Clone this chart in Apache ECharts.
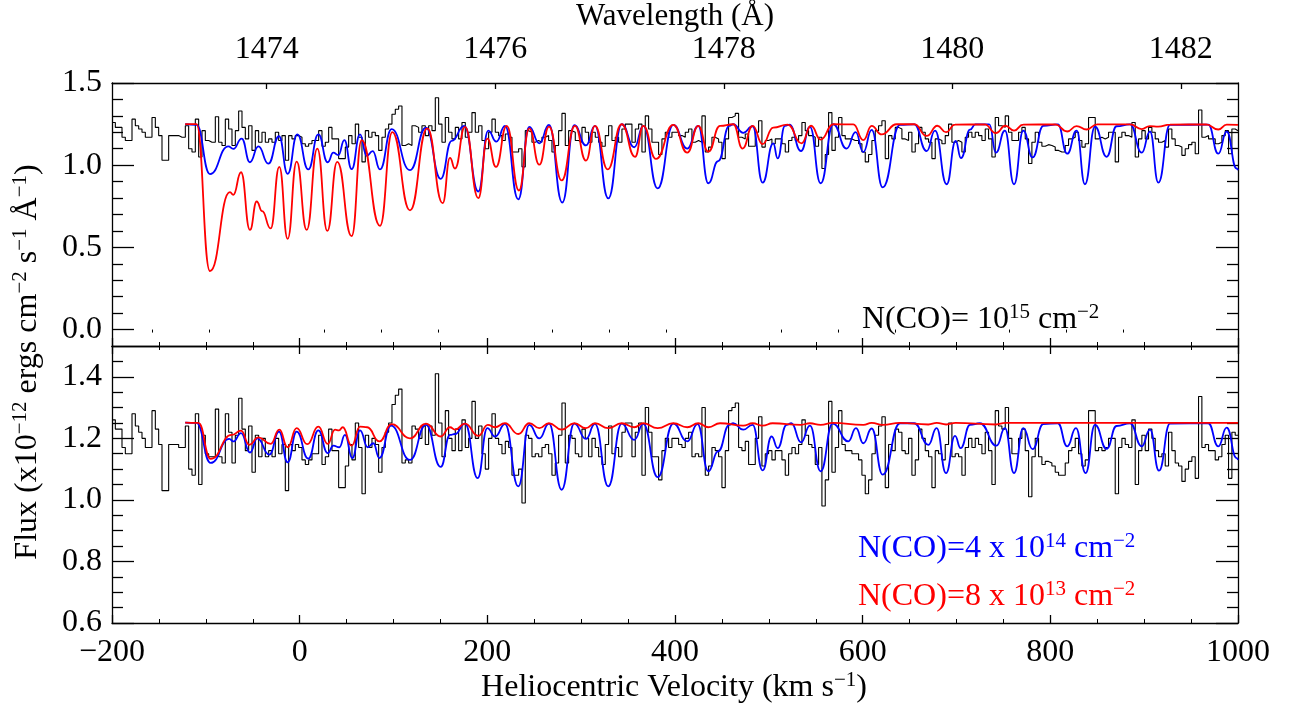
<!DOCTYPE html>
<html>
<head>
<meta charset="utf-8">
<script src="https://cdn.jsdelivr.net/npm/echarts@6/dist/echarts.min.js"></script>
<style>html,body{margin:0;padding:0;background:#fff}#c{width:1292px;height:709px}</style>
</head>
<body>
<div id="c"></div>
<script>
// ---------- DATA ----------
const velocityTicks = [-200, 0, 200, 400, 600, 800, 1000];
const wavelengthTicks = [1474, 1476, 1478, 1480, 1482];
const wavelengthMinorTicks = [1473, 1473.5, 1474.5, 1475, 1475.5, 1476.5, 1477, 1477.5, 1478.5, 1479, 1479.5, 1480.5, 1481, 1481.5, 1482.5];
const topFluxTicks = [0.0, 0.5, 1.0, 1.5];
const topFluxMinorTicks = [0.1, 0.2, 0.3, 0.4, 0.6, 0.7, 0.8, 0.9, 1.1, 1.2, 1.3, 1.4];
const bottomFluxTicks = [0.6, 0.8, 1.0, 1.2, 1.4];
const bottomFluxMinorTicks = [0.65, 0.7, 0.75, 0.85, 0.9, 0.95, 1.05, 1.1, 1.15, 1.25, 1.3, 1.35, 1.45];

// observed spectrum (histogram), one value per bin starting at -200 km/s
const fluxStartVel = -200;
const fluxBinWidth = 3.552;
const observedFlux = [
 1.26,1.23,1.23,1.17,1.15,1.15,1.28,1.24,1.22,1.20,
 1.17,1.17,1.29,1.23,1.18,1.03,1.03,1.18,1.18,1.18,
 1.17,1.17,1.24,1.10,1.08,1.28,1.05,1.21,1.15,1.14,
 1.14,1.295,1.14,1.12,1.28,1.22,1.12,1.21,1.33,1.23,
 1.16,1.24,1.09,1.21,1.14,1.20,1.14,1.16,1.14,1.20,
 1.15,1.18,1.03,1.18,1.16,1.18,1.17,1.13,1.115,1.13,
 1.15,1.15,1.21,1.115,1.14,1.23,1.16,1.16,1.04,1.04,
 1.11,1.18,1.13,1.25,1.17,1.02,1.21,1.17,1.20,1.18,
 1.09,1.17,1.22,1.25,1.31,1.34,1.36,1.12,1.13,1.12,
 1.24,1.23,1.20,1.24,1.18,1.24,1.21,1.41,1.25,1.14,
 1.29,1.20,1.16,1.23,1.16,1.26,1.17,1.20,1.32,1.20,
 1.24,1.15,1.10,1.20,1.28,1.20,1.18,1.15,1.19,1.17,
 1.08,1.08,1.10,0.99,1.21,1.20,1.14,1.15,1.14,1.17,
 1.18,1.15,1.08,1.12,1.21,1.315,1.12,1.21,1.20,1.15,
 1.14,1.23,1.20,1.14,1.20,1.17,1.14,1.115,1.18,1.24,
 1.15,1.17,1.14,1.22,1.25,1.25,1.14,1.22,1.25,1.08,
 1.30,1.22,1.14,1.14,1.065,1.16,1.20,1.17,1.20,1.20,
 1.18,1.17,1.20,1.22,1.14,1.15,1.14,1.30,1.08,1.11,
 1.17,1.16,1.14,1.04,1.16,1.29,1.30,1.315,1.17,1.16,
 1.19,1.115,1.115,1.20,1.27,1.11,1.15,1.16,1.13,1.16,
 1.16,1.13,1.08,1.15,1.17,1.15,1.18,1.26,1.21,1.18,
 1.17,1.115,1.17,0.98,1.065,1.32,1.09,1.17,1.29,1.18,
 1.16,1.16,1.15,1.15,1.13,1.08,1.02,1.065,1.15,1.21,
 1.24,1.27,1.04,1.18,1.16,1.23,1.22,1.16,1.15,1.20,
 1.08,1.13,1.23,1.20,1.16,1.14,1.04,1.16,1.15,1.13,
 1.18,1.25,1.14,1.15,1.14,1.08,1.17,1.20,1.17,1.20,
 1.18,1.15,1.22,1.16,1.05,1.29,1.24,1.23,1.30,1.20,
 1.15,1.15,1.20,1.23,1.16,1.01,1.14,1.20,1.14,1.115,
 1.125,1.12,1.11,1.09,1.08,1.08,1.12,1.16,1.17,1.20,
 1.15,1.11,1.13,1.29,1.29,1.16,1.17,1.16,1.17,1.20,
 1.20,1.02,1.17,1.20,1.18,1.17,1.26,1.05,1.16,1.21,
 1.16,1.23,1.20,1.16,1.14,1.15,1.11,1.22,1.16,1.12,
 1.11,1.06,1.10,1.125,1.14,1.07,1.336,1.17,1.18,1.16,
 1.16,1.13,1.14,1.18,1.21,1.07,1.22,1.21
];

// model curves: [velocity, flux] at extrema
const topRedModel = [[-122,1.25],[-110,1.25],[-95.6,0.356],[-74.3,0.836],[-70.7,0.82],[-62.5,0.957],[-53,0.606],[-45.8,0.779],[-40,0.72],[-30.9,0.615],[-21.7,0.99],[-12.8,0.552],[-3.2,1.022],[7.5,0.606],[18.8,1.101],[29.5,0.6],[40,1.02],[55.4,0.568],[66.1,1.153],[85.6,0.631],[98.7,1.201],[117.6,0.725],[136,1.224],[152.4,0.769],[160.2,1.044],[165.5,0.98],[176.2,1.233],[190.4,0.80],[200,1.162],[209.2,0.99],[220.6,1.239],[233.7,0.846],[244.7,1.224],[255.4,1.003],[265.7,1.235],[279.2,0.907],[293.4,1.239],[305.1,1.028],[314.7,1.239],[328.3,0.974],[343.2,1.249],[357.4,1.051],[366.2,1.239],[379.7,1.038],[398.2,1.245],[413.1,1.076],[424.8,1.239],[435.5,1.082],[448,1.239],[462.2,1.249],[472,1.101],[482.7,1.239],[493.4,1.128],[504.7,1.229],[520,1.247],[534.9,1.133],[545,1.24],[555.2,1.156],[568.7,1.249],[590,1.248],[600.7,1.153],[609.6,1.239],[620.2,1.187],[636.2,1.249],[655,1.249],[668.2,1.178],[679.6,1.24],[688.8,1.201],[698.4,1.247],[730,1.248],[742,1.195],[752,1.24],[761.3,1.21],[771,1.247],[805,1.248],[818,1.205],[828,1.238],[838.6,1.217],[850,1.248],[885,1.248],[897.4,1.22],[906,1.238],[915,1.234],[927.5,1.247],[966,1.248],[979,1.217],[988,1.247],[1000,1.245]];

const topBlueModel = [[-122,1.25],[-110,1.245],[-95.6,0.946],[-76,1.114],[-70.7,1.099],[-61.8,1.162],[-53,1.018],[-44,1.114],[-33.4,1.009],[-22,1.176],[-12.8,0.948],[-2.5,1.187],[9.2,0.974],[19.9,1.187],[29.9,1.018],[35.9,1.076],[41.2,1.061],[47.6,1.153],[55.4,0.976],[64.3,1.187],[71.4,1.057],[77.8,1.086],[85.6,0.974],[98,1.22],[117.6,0.97],[134.6,1.229],[150.3,0.917],[162,1.148],[175.4,1.239],[190.4,0.84],[201,1.21],[209.6,1.143],[218.8,1.239],[233,0.792],[244.7,1.233],[255.4,1.133],[265.7,1.245],[279.9,0.773],[292.7,1.243],[305.1,1.12],[314.7,1.239],[328.9,0.798],[343.2,1.249],[356.6,1.109],[366.2,1.239],[381.5,0.859],[398.2,1.245],[413.1,1.101],[424.8,1.239],[435.5,0.89],[446,1.025],[457.9,1.239],[462,1.249],[472.7,1.197],[482.7,1.237],[493.4,0.894],[504.7,1.133],[509.4,1.041],[517.2,1.239],[522,1.247],[534.3,1.086],[543.8,1.233],[555.2,0.89],[568.7,1.249],[582.9,1.101],[592.5,1.201],[600.7,1.08],[609.6,1.215],[621.3,0.865],[639.8,1.245],[655,1.248],[668.2,1.086],[677.1,1.21],[689.5,0.884],[699.1,1.147],[704.8,1.043],[714.4,1.216],[720,1.248],[735,1.248],[742,1.076],[751.6,1.21],[761.3,0.884],[771.2,1.21],[781.1,1.047],[792.5,1.239],[808,1.248],[818,1.07],[828,1.21],[836.9,0.884],[847.6,1.235],[860,1.051],[870.6,1.237],[885,1.248],[897.4,1.076],[906.2,1.205],[915.1,0.894],[927.5,1.245],[968.3,1.247],[979,1.07],[987.9,1.205],[998.5,0.98],[1000,0.97]];

const bottomBlueModel = [[-122,1.251],[-110,1.25],[-94.8,1.12],[-75,1.198],[-70.7,1.19],[-62.5,1.217],[-53,1.154],[-45.1,1.2],[-32.4,1.147],[-22,1.222],[-12.8,1.122],[-3.2,1.222],[9.2,1.134],[19.9,1.226],[29.9,1.152],[35.9,1.176],[42.3,1.171],[48.3,1.211],[56.1,1.136],[64.3,1.226],[72.5,1.171],[78.5,1.184],[84.9,1.136],[97.3,1.241],[117.6,1.13],[134.6,1.244],[150.3,1.107],[160.2,1.211],[165.5,1.214],[176.2,1.248],[189.7,1.071],[200,1.233],[208.2,1.206],[218.8,1.246],[233,1.044],[244.7,1.244],[255.4,1.2],[265.7,1.248],[279.2,1.033],[292.7,1.248],[305.1,1.198],[314.7,1.247],[328.9,1.044],[343.2,1.248],[356.6,1.195],[366.2,1.247],[381.5,1.074],[398.2,1.248],[413.1,1.19],[424,1.246],[435.5,1.093],[446,1.158],[457.9,1.244],[462,1.249],[472.7,1.228],[482.7,1.244],[493.4,1.096],[503,1.206],[509.4,1.168],[519,1.244],[524,1.249],[534.3,1.187],[543.8,1.241],[555.2,1.093],[568,1.248],[584.7,1.19],[592.9,1.233],[600.7,1.184],[609.6,1.232],[621.3,1.082],[639.8,1.249],[655,1.249],[670,1.179],[678.8,1.233],[688.8,1.087],[698.4,1.208],[704.4,1.168],[714.4,1.244],[725,1.249],[742.7,1.176],[751.6,1.233],[761.3,1.087],[771.2,1.233],[781.1,1.165],[792.5,1.246],[808,1.249],[818,1.174],[827.3,1.233],[837.6,1.087],[847.6,1.244],[860,1.166],[870.6,1.24],[885,1.249],[897.4,1.174],[906.2,1.228],[915.8,1.095],[927.5,1.248],[968.3,1.249],[979,1.174],[987.9,1.235],[998.5,1.136],[1000,1.13]];

const bottomRedModel = [[-122,1.251],[-108,1.25],[-94.8,1.133],[-72.5,1.211],[-62.5,1.225],[-53.7,1.179],[-44,1.203],[-30.9,1.182],[-21.7,1.228],[-12.8,1.171],[-3.2,1.233],[8.1,1.181],[19.9,1.238],[29.9,1.182],[37.7,1.228],[42,1.226],[45.9,1.236],[55.4,1.176],[64.3,1.238],[72,1.236],[84.9,1.19],[98,1.246],[117.6,1.2],[134.6,1.248],[150.3,1.206],[160.2,1.236],[165.5,1.228],[176.2,1.248],[190.4,1.208],[200.5,1.244],[208,1.236],[218.8,1.249],[233,1.214],[244.7,1.249],[255.4,1.233],[265.7,1.249],[279.2,1.228],[292.7,1.249],[305.1,1.233],[314.7,1.249],[328.9,1.233],[343.2,1.249],[356.6,1.236],[366.2,1.249],[381.5,1.233],[398.2,1.249],[413.1,1.236],[424.8,1.249],[435.5,1.236],[448,1.249],[472.7,1.241],[482.7,1.249],[493.4,1.241],[504,1.249],[534.3,1.244],[543.8,1.249],[555.2,1.244],[568,1.25],[600.7,1.244],[609.6,1.25],[621.3,1.244],[639.8,1.25],[670,1.245],[679,1.25],[689,1.245],[699,1.25],[742,1.245],[752,1.25],[1000,1.25]];

// ---------- CHART ----------
const FONT = '"Liberation Serif", "DejaVu Serif", serif';
const BLACK = '#000';
const histData = observedFlux.map((f, i) => [fluxStartVel + i * fluxBinWidth, f]);
histData.push([1000, observedFlux[observedFlux.length - 1]]);

const lineStyleAxis = { color: BLACK, width: 1.3 };
const gridsDef = [
  { left: 112, top: 68, width: 1126, height: 278 },
  { left: 112, top: 346, width: 1126, height: 277 }
];

function velAxis(grid, pos, labels) {
  return {
    type: 'value', gridIndex: grid, position: pos, min: velocityTicks[0], max: velocityTicks[velocityTicks.length - 1], interval: 200,
    axisLine: { show: true, onZero: false, lineStyle: lineStyleAxis },
    axisTick: { show: true, inside: true, length: 8, lineStyle: lineStyleAxis },
    minorTick: { show: true, splitNumber: 4, length: 4, lineStyle: { color: BLACK, width: 1 } },
    splitLine: { show: false }, minorSplitLine: { show: false },
    axisLabel: labels ? {
      show: true, margin: 14, color: BLACK, fontFamily: FONT, fontSize: 32,
      formatter: v => (v < 0 ? '\u2212' + Math.abs(v) : String(v))
    } : { show: false }
  };
}
function yAxisDef(grid, pos, min, max, ticks, len, labels, line) {
  return {
    type: 'value', gridIndex: grid, position: pos, min: min, max: max,
    axisLine: { show: line, onZero: false, lineStyle: lineStyleAxis },
    axisTick: { show: true, inside: true, length: len, customValues: ticks, lineStyle: lineStyleAxis },
    splitLine: { show: false },
    axisLabel: labels ? {
      show: true, customValues: ticks, margin: 10, color: BLACK, fontFamily: FONT, fontSize: 32,
      formatter: v => v.toFixed(1)
    } : { show: false }
  };
}

const xAxes = [
  velAxis(0, 'bottom', false),
  {
    type: 'value', gridIndex: 0, position: 'top', min: 1472.646, max: 1482.5,
    axisLine: { show: true, onZero: false, lineStyle: lineStyleAxis },
    axisTick: { show: true, inside: true, length: 6, customValues: wavelengthTicks, lineStyle: lineStyleAxis },
    splitLine: { show: false },
    axisLabel: { show: true, customValues: wavelengthTicks, margin: 17, color: BLACK, fontFamily: FONT, fontSize: 32,
      formatter: v => String(v) },
    name: 'Wavelength (\u00C5)', nameLocation: 'middle', nameGap: 51,
    nameTextStyle: { color: BLACK, fontFamily: FONT, fontSize: 31 }
  },
  {
    type: 'value', gridIndex: 0, position: 'top', min: 1472.646, max: 1482.5,
    axisLine: { show: false },
    axisTick: { show: true, inside: true, length: 3, customValues: wavelengthMinorTicks, lineStyle: { color: BLACK, width: 1 } },
    splitLine: { show: false }, axisLabel: { show: false }
  },
  velAxis(1, 'bottom', true),
  velAxis(1, 'top', false)
];

const yAxes = [
  yAxisDef(0, 'left', -0.1, 1.5, topFluxTicks, 22, true, true),
  yAxisDef(0, 'left', -0.1, 1.5, topFluxMinorTicks, 11, false, false),
  yAxisDef(0, 'right', -0.1, 1.5, topFluxTicks, 22, false, true),
  yAxisDef(0, 'right', -0.1, 1.5, topFluxMinorTicks, 11, false, false),
  yAxisDef(1, 'left', 0.6, 1.5, bottomFluxTicks, 22, true, true),
  yAxisDef(1, 'left', 0.6, 1.5, bottomFluxMinorTicks, 11, false, false),
  yAxisDef(1, 'right', 0.6, 1.5, bottomFluxTicks, 22, false, true),
  yAxisDef(1, 'right', 0.6, 1.5, bottomFluxMinorTicks, 11, false, false)
];

function modelSeries(data, color, xi, yi) {
  return {
    type: 'line', data: data, xAxisIndex: xi, yAxisIndex: yi,
    showSymbol: false, symbol: 'none', smooth: 0.5, smoothMonotone: 'x',
    lineStyle: { color: color, width: 1.8 }, clip: true, silent: true
  };
}
function histSeries(xi, yi) {
  return {
    type: 'line', data: histData, xAxisIndex: xi, yAxisIndex: yi, step: 'end',
    showSymbol: false, symbol: 'none', lineStyle: { color: BLACK, width: 1.1 }, clip: true, silent: true
  };
}

const sup = { fontSize: 21, lineHeight: 22, verticalAlign: 'top', fontFamily: FONT };
function richText(x, y, text, color, align, rotation) {
  return {
    type: 'text', x: x, y: y, rotation: rotation || 0, silent: true,
    style: {
      text: text, fill: color, align: align, verticalAlign: 'middle',
      fontFamily: FONT, fontSize: 32, lineHeight: 36,
      rich: { s: Object.assign({ fill: color, color: color }, sup) }
    }
  };
}

const option = {
  animation: false,
  backgroundColor: '#fff',
  grid: gridsDef,
  xAxis: xAxes,
  yAxis: yAxes,
  series: [
    histSeries(0, 0),
    modelSeries(topBlueModel, '#0000ff', 0, 0),
    modelSeries(topRedModel, '#ff0000', 0, 0),
    histSeries(3, 4),
    modelSeries(bottomBlueModel, '#0000ff', 3, 4),
    modelSeries(bottomRedModel, '#ff0000', 3, 4)
  ],
  graphic: [
    richText(674, 688, 'Heliocentric Velocity (km s{s|\u22121})', BLACK, 'center'),
    richText(28, 362, 'Flux (x10{s|\u221212} ergs cm{s|\u22122} s{s|\u22121} \u00C5{s|\u22121})', BLACK, 'center', Math.PI / 2),
    richText(862, 320, 'N(CO)= 10{s|15} cm{s|\u22122}', BLACK, 'left'),
    richText(858, 549, 'N(CO)=4 x 10{s|14} cm{s|\u22122}', '#0000ff', 'left'),
    richText(858, 597, 'N(CO)=8 x 10{s|13} cm{s|\u22122}', '#ff0000', 'left')
  ]
};

const chart = echarts.init(document.getElementById('c'), null, { renderer: 'canvas' });
chart.setOption(option);
</script>
</body>
</html>
